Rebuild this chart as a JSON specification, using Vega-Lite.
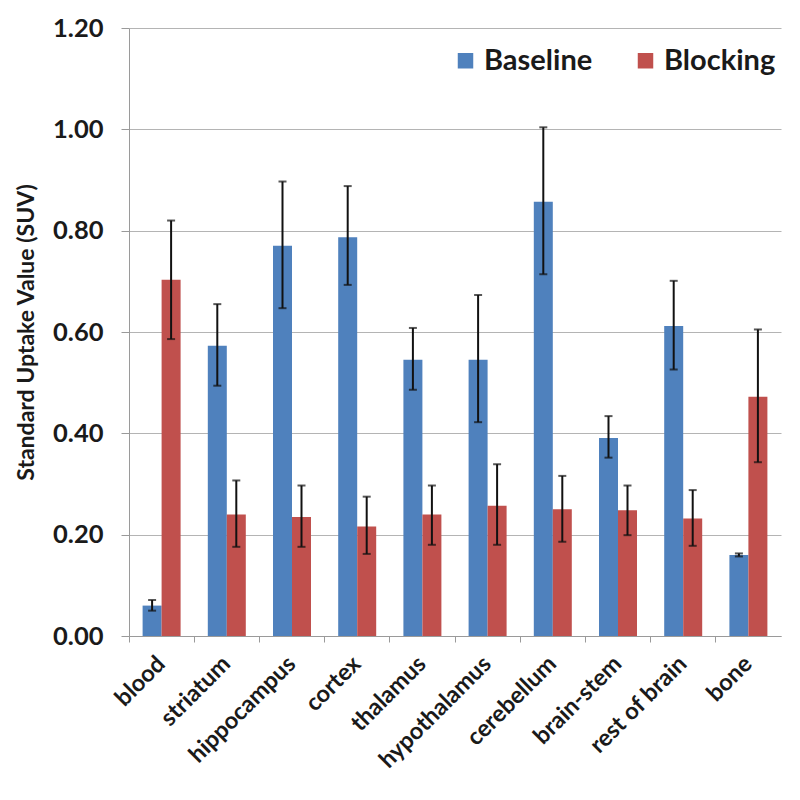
{
  "$schema": "https://vega.github.io/schema/vega-lite/v6.json",
  "width": 652,
  "height": 608,
  "autosize": {"type": "none"},
  "padding": {"left": 129, "top": 28, "right": 19, "bottom": 164},
  "background": "white",
  "config": {
    "font": "Lato",
    "view": {"stroke": null},
    "axis": {"labelFont": "Lato", "titleFont": "Lato", "labelFontWeight": "bold", "titleFontWeight": "bold", "labelColor": "#1a1a1a", "titleColor": "#1a1a1a"}
  },
  "data": {
    "values": [
      {"organ": "blood", "group": "Baseline", "value": 0.060, "lo": 0.050, "hi": 0.071},
      {"organ": "blood", "group": "Blocking", "value": 0.703, "lo": 0.586, "hi": 0.820},
      {"organ": "striatum", "group": "Baseline", "value": 0.573, "lo": 0.494, "hi": 0.655},
      {"organ": "striatum", "group": "Blocking", "value": 0.240, "lo": 0.176, "hi": 0.307},
      {"organ": "hippocampus", "group": "Baseline", "value": 0.770, "lo": 0.647, "hi": 0.897},
      {"organ": "hippocampus", "group": "Blocking", "value": 0.235, "lo": 0.176, "hi": 0.297},
      {"organ": "cortex", "group": "Baseline", "value": 0.787, "lo": 0.693, "hi": 0.888},
      {"organ": "cortex", "group": "Blocking", "value": 0.216, "lo": 0.162, "hi": 0.275},
      {"organ": "thalamus", "group": "Baseline", "value": 0.545, "lo": 0.486, "hi": 0.608},
      {"organ": "thalamus", "group": "Blocking", "value": 0.240, "lo": 0.180, "hi": 0.297},
      {"organ": "hypothalamus", "group": "Baseline", "value": 0.545, "lo": 0.422, "hi": 0.673},
      {"organ": "hypothalamus", "group": "Blocking", "value": 0.257, "lo": 0.180, "hi": 0.339},
      {"organ": "cerebellum", "group": "Baseline", "value": 0.857, "lo": 0.714, "hi": 1.004},
      {"organ": "cerebellum", "group": "Blocking", "value": 0.250, "lo": 0.186, "hi": 0.316},
      {"organ": "brain-stem", "group": "Baseline", "value": 0.391, "lo": 0.352, "hi": 0.434},
      {"organ": "brain-stem", "group": "Blocking", "value": 0.248, "lo": 0.199, "hi": 0.297},
      {"organ": "rest of brain", "group": "Baseline", "value": 0.612, "lo": 0.526, "hi": 0.701},
      {"organ": "rest of brain", "group": "Blocking", "value": 0.232, "lo": 0.178, "hi": 0.288},
      {"organ": "bone", "group": "Baseline", "value": 0.160, "lo": 0.157, "hi": 0.163},
      {"organ": "bone", "group": "Blocking", "value": 0.472, "lo": 0.343, "hi": 0.605}
    ]
  },
  "encoding": {
    "x": {
      "field": "organ", "type": "nominal", "sort": null,
      "scale": {"paddingInner": 0, "paddingOuter": 0},
      "axis": {
        "title": null, "labelAngle": -45, "labelAlign": "right", "labelBaseline": "middle",
        "labelFontSize": 23.5, "labelPadding": 18, "bandPosition": 0,
        "domainColor": "#9a9a9a", "tickColor": "#9a9a9a", "tickSize": 6, "grid": false
      }
    },
    "xOffset": {"field": "group", "type": "nominal", "scale": {"paddingInner": 0, "paddingOuter": 0.716}}
  },
  "layer": [
    {
      "mark": {"type": "bar"},
      "encoding": {
        "y": {
          "field": "value", "type": "quantitative",
          "scale": {"domain": [0, 1.2], "nice": false},
          "axis": {
            "title": "Standard Uptake Value (SUV)", "titleFontSize": 23, "titlePadding": 14,
            "values": [0, 0.2, 0.4, 0.6, 0.8, 1.0, 1.2], "format": ".2f",
            "labelFontSize": 25.5, "labelPadding": 18, "tickSize": 8,
            "domainColor": "#9a9a9a", "tickColor": "#9a9a9a", "gridColor": "#b4b4b4", "grid": true
          }
        },
        "color": {
          "field": "group", "type": "nominal",
          "scale": {"domain": ["Baseline", "Blocking"], "range": ["#4f81bd", "#c0504d"]},
          "legend": {
            "title": null, "orient": "none", "legendX": 322, "legendY": 18, "direction": "horizontal",
            "symbolType": "square", "symbolSize": 240, "symbolStrokeWidth": 0, "symbolOpacity": 1,
            "labelFont": "Lato", "labelFontWeight": "bold", "labelFontSize": 29, "labelColor": "#1a1a1a",
            "labelOffset": 4, "columnPadding": 38
          }
        }
      }
    },
    {
      "mark": {"type": "rule", "color": "#111111", "strokeWidth": 2},
      "encoding": {
        "y": {"field": "lo", "type": "quantitative"},
        "y2": {"field": "hi"}
      }
    },
    {
      "mark": {"type": "tick", "color": "#111111", "thickness": 2, "size": 8},
      "encoding": {"y": {"field": "lo", "type": "quantitative"}}
    },
    {
      "mark": {"type": "tick", "color": "#111111", "thickness": 2, "size": 8},
      "encoding": {"y": {"field": "hi", "type": "quantitative"}}
    }
  ]
}
